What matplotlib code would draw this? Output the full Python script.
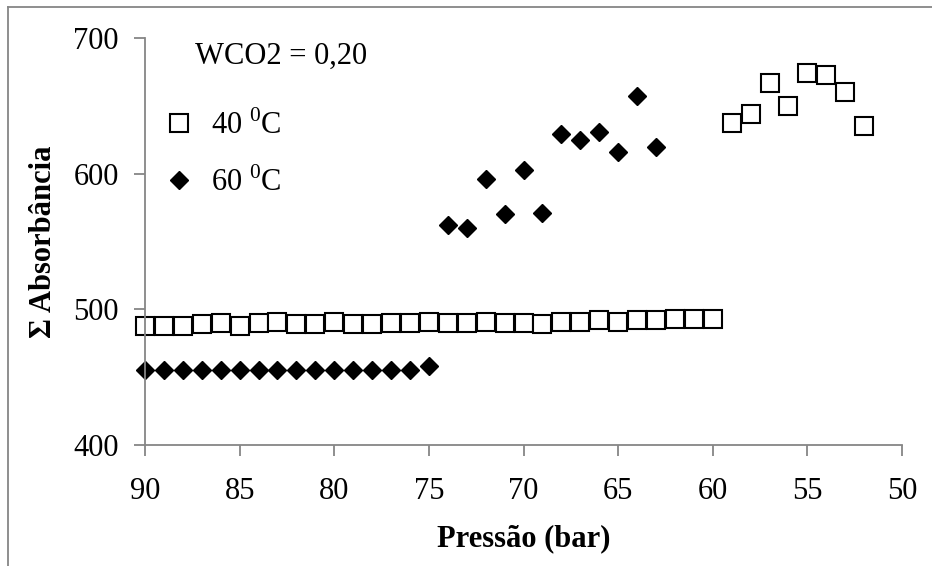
import matplotlib.pyplot as plt
from matplotlib.lines import Line2D

# Dados
pressao_40 = list(range(90, 51, -1))
absorb_40 = [488, 488, 487.5, 489, 490, 487.5, 490, 490.5, 489, 489,
             491, 489, 489, 490, 490, 490.5, 490, 490, 490.5, 490,
             490, 489.5, 490.5, 490.5, 492, 491, 492, 492, 493, 493,
             493, 637, 644, 667, 650, 674, 673, 660, 635]

pressao_60 = list(range(90, 62, -1))
absorb_60 = [455, 455, 455, 455, 455, 455, 455, 455, 455, 455,
             455, 455, 455, 455, 455, 458, 562, 560, 596, 570,
             603, 571, 629, 625, 631, 616, 657, 620]

legenda = ['40 $^{\\mathregular{0}}$C', '60 $^{\\mathregular{0}}$C']
titulo_legenda = 'WCO2 = 0,20'

plt.rcParams['font.family'] = ['Liberation Serif', 'DejaVu Serif']
plt.rcParams['mathtext.fontset'] = 'custom'
plt.rcParams['mathtext.rm'] = 'Liberation Serif'

cinza = '#868686'

fig = plt.figure(figsize=(9.32, 5.66), dpi=100)
ax = fig.add_axes([0.1556, 0.2138, 0.8122, 0.7191])

ax.plot(pressao_40, absorb_40, linestyle='none', marker='s', markersize=12.5,
        markerfacecolor='white', markeredgecolor='black', markeredgewidth=1.5,
        label=legenda[0], clip_on=False)
ax.plot(pressao_60, absorb_60, linestyle='none', marker='D', markersize=9.5,
        markerfacecolor='black', markeredgecolor='black', label=legenda[1],
        clip_on=False)

ax.set_xlim(90, 50)
ax.set_ylim(400, 700)
ax.set_xticks(range(90, 49, -5))
ax.set_yticks([400, 500, 600, 700])

for lado in ['top', 'right']:
    ax.spines[lado].set_visible(False)
for lado in ['left', 'bottom']:
    ax.spines[lado].set_color(cinza)
    ax.spines[lado].set_linewidth(1.3)
ax.tick_params(direction='out', length=8, width=1.3, color=cinza,
               labelsize=22)
ax.tick_params(axis='x', pad=15)
ax.tick_params(axis='y', pad=11)

ax.set_xlabel('Pressão (bar)', fontsize=22, fontweight='bold', labelpad=13)
ax.set_ylabel('Σ Absorbância', fontsize=22, fontweight='bold', labelpad=11)

ax.text(0.066, 0.99, titulo_legenda, transform=ax.transAxes, fontsize=22,
        va='top', ha='left')
ax.legend(loc='upper left', bbox_to_anchor=(-0.003, 0.867), frameon=False,
          fontsize=22, handletextpad=0.45, labelspacing=0.85,
          handlelength=1.2, borderaxespad=0.2)

# moldura da figura (apenas esquerda e topo visíveis)
fig.add_artist(Line2D([8 / 932, 1], [1 - 7 / 566, 1 - 7 / 566], color=cinza,
                      linewidth=1.3, transform=fig.transFigure))
fig.add_artist(Line2D([8 / 932, 8 / 932], [0, 1 - 7 / 566], color=cinza,
                      linewidth=1.3, transform=fig.transFigure))

plt.savefig('out.png', dpi=100)
plt.close()
